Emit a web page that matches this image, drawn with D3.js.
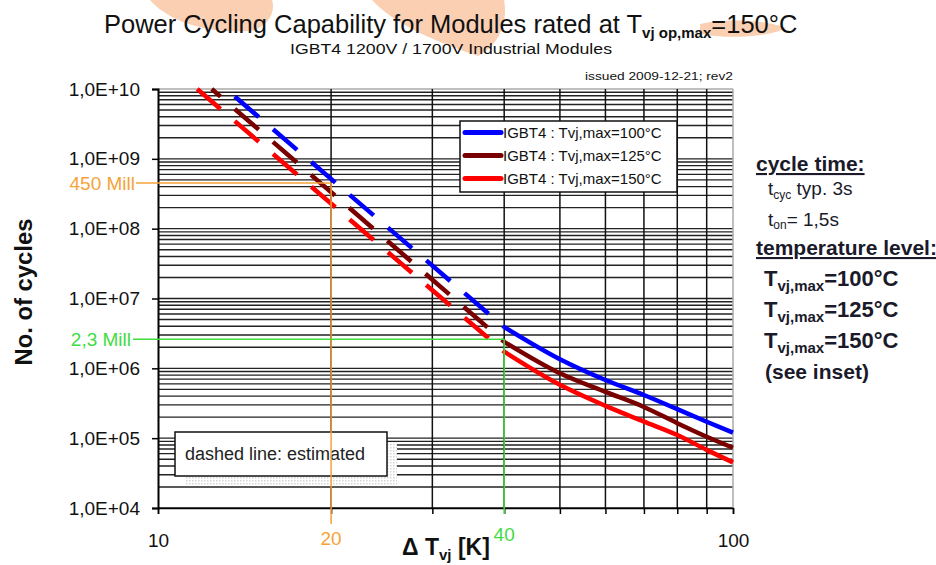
<!DOCTYPE html>
<html>
<head>
<meta charset="utf-8">
<script src="https://cdn.jsdelivr.net/npm/d3@7"></script>
<style>
  body { margin: 0; background: #fff; }
  text { font-family: "Liberation Sans", Arial, sans-serif; }
</style>
</head>
<body>
<script>
// measured curves: delta T [K] vs number of cycles
var dT = [40, 50, 60, 70, 80, 90, 100];
var cyc100 = [3.9e6, 1.35e6, 6.8e5, 4.15e5, 2.6e5, 1.72e5, 1.2e5];
var cyc125 = [2.4e6, 8.5e5, 4.6e5, 2.8e5, 1.64e5, 1.05e5, 7.3e4];
var cyc150 = [1.73e6, 5.8e5, 2.9e5, 1.73e5, 1.11e5, 6.8e4, 4.5e4];

// estimated (dashed) parts: [delta T, cycles]
var est100 = [[13.6, 7.8e9], [40, 3.9e6]];
var est125 = [[12.4, 1e10], [40, 2.4e6]];
var est150 = [[11.7, 1e10], [40, 1.73e6]];

var seriesNames = ['IGBT4 : Tvj,max=100°C', 'IGBT4 : Tvj,max=125°C', 'IGBT4 : Tvj,max=150°C'];
var seriesColors = ['#0000ff', '#7a0000', '#ff0000'];

var yTicks = [1e4, 1e5, 1e6, 1e7, 1e8, 1e9, 1e10];
var yTickLabels = ['1,0E+04', '1,0E+05', '1,0E+06', '1,0E+07', '1,0E+08', '1,0E+09', '1,0E+10'];
var xTicks = [10, 20, 30, 40, 50, 60, 70, 80, 90, 100];

// marker lines
var markT = [20, 40];
var markN = [4.5e8, 2.6e6];
var markLabels = ['450 Mill', '2,3 Mill'];
var markColors = ['#f5a338', '#3fdc3f'];

var width = 936, height = 565;
var margin = {top: 89, right: 203, bottom: 57, left: 158};
var w = width - margin.left - margin.right;
var h = height - margin.top - margin.bottom;

var svg = d3.select('body').append('svg')
  .attr('width', width)
  .attr('height', height);

// faint logo shapes behind the title
var peach = svg.append('g').attr('fill', '#fbcfb2');
peach.append('path').attr('d', 'M150,0 C165,18 200,34 250,31 C268,28 276,12 272,0 Z');
peach.append('path').attr('d', 'M372,0 C392,22 430,40 478,56 C500,44 508,22 504,0 Z');
peach.append('path').attr('d', 'M700,24 C725,18 768,20 786,28 C770,37 722,40 700,33 Z');

svg.append('text')
  .attr('x', 104).attr('y', 33)
  .style('font-size', '25.5px').attr('fill', '#111')
  .call(function(t) {
    t.append('tspan').text('Power Cycling Capability for Modules rated at T');
    t.append('tspan').attr('dy', 5).style('font-size', '15px').style('font-weight', 'bold').text('vj op,max');
    t.append('tspan').attr('dy', -5).text('=150°C');
  });

svg.append('text')
  .attr('x', 451).attr('y', 54).attr('text-anchor', 'middle')
  .style('font-size', '15px').attr('fill', '#111')
  .attr('textLength', 322).attr('lengthAdjust', 'spacingAndGlyphs')
  .text('IGBT4 1200V / 1700V Industrial Modules');

svg.append('text')
  .attr('x', 733).attr('y', 80).attr('text-anchor', 'end')
  .style('font-size', '11px').attr('fill', '#111')
  .attr('textLength', 148).attr('lengthAdjust', 'spacingAndGlyphs')
  .text('issued 2009-12-21; rev2');

var g = svg.append('g')
  .attr('transform', 'translate(' + margin.left + ',' + margin.top + ')');

var x = d3.scaleLog().domain([10, 100]).range([0, w]);
var y = d3.scaleLog().domain([1e4, 1e10]).range([h, 0]);

// horizontal grid on every minor step
var hGrid = [];
for (var k = 4; k < 10; k++) {
  for (var m = 1; m < 10; m++) hGrid.push(m * Math.pow(10, k));
}
hGrid.push(1e10);

g.append('g').selectAll('line')
  .data(hGrid)
  .enter().append('line')
  .attr('x1', 0).attr('x2', w)
  .attr('y1', function(d) { return y(d); })
  .attr('y2', function(d) { return y(d); })
  .attr('stroke', function(d) { return d == 1e10 ? '#aaa' : '#222'; })
  .attr('stroke-width', 1.4);

g.append('g').selectAll('line')
  .data(xTicks.slice(1))
  .enter().append('line')
  .attr('x1', function(d) { return x(d); })
  .attr('x2', function(d) { return x(d); })
  .attr('y1', 0).attr('y2', h)
  .attr('stroke', function(d) { return d == 100 ? '#aaa' : '#111'; })
  .attr('stroke-width', 1.5);

// axes
var yAxis = g.append('g')
  .call(d3.axisLeft(y).tickValues(yTicks).tickSize(6).tickPadding(12)
    .tickFormat(function(d, i) { return yTickLabels[i]; }));
yAxis.select('.domain').attr('stroke', '#000').attr('stroke-width', 2);
yAxis.selectAll('line').attr('stroke', '#000').attr('stroke-width', 1.5);
yAxis.selectAll('text').style('font-size', '19px').attr('fill', '#111')
  .style('font-family', '"Liberation Sans", Arial, sans-serif');

var xAxis = g.append('g')
  .attr('transform', 'translate(0,' + h + ')')
  .call(d3.axisBottom(x).tickValues(xTicks).tickSize(6).tickPadding(20)
    .tickFormat(function(d) { return (d == 10 || d == 100) ? d : ''; }));
xAxis.select('.domain').attr('stroke', '#000').attr('stroke-width', 1.5);
xAxis.selectAll('line').attr('stroke', '#000').attr('stroke-width', 1.5);
xAxis.selectAll('text').style('font-size', '19px').attr('fill', '#111')
  .style('font-family', '"Liberation Sans", Arial, sans-serif');

// note box "dashed line: estimated"
var shadow = svg.append('defs').append('pattern')
  .attr('id', 'dots').attr('width', 3).attr('height', 3)
  .attr('patternUnits', 'userSpaceOnUse');
shadow.append('rect').attr('width', 3).attr('height', 3).attr('fill', '#fff');
shadow.append('rect').attr('width', 1.5).attr('height', 1.5).attr('fill', '#d4d4d4');
svg.append('rect').attr('x', 185).attr('y', 442).attr('width', 212).attr('height', 44)
  .attr('fill', 'url(#dots)');
svg.append('rect').attr('x', 175).attr('y', 432).attr('width', 212).attr('height', 44)
  .attr('fill', '#fff').attr('stroke', '#111').attr('stroke-width', 1.5);
svg.append('text').attr('x', 185).attr('y', 460)
  .style('font-size', '18px').attr('fill', '#222')
  .text('dashed line: estimated');

// marker lines
markT.forEach(function(t, i) {
  var px = margin.left + x(t), py = margin.top + y(markN[i]);
  svg.append('line')
    .attr('x1', i == 0 ? 136 : 133).attr('x2', px)
    .attr('y1', py).attr('y2', py)
    .attr('stroke', markColors[i]).attr('stroke-width', 1.5);
  svg.append('line')
    .attr('x1', px).attr('x2', px)
    .attr('y1', py).attr('y2', i == 0 ? 524 : 514)
    .attr('stroke', markColors[i]).attr('stroke-width', 1.5);
  svg.append('text')
    .attr('x', i == 0 ? 135 : 131).attr('y', py + 7)
    .attr('text-anchor', 'end')
    .style('font-size', '19px').attr('fill', markColors[i])
    .text(markLabels[i]);
  svg.append('text')
    .attr('x', px).attr('y', i == 0 ? 545 : 541)
    .attr('text-anchor', 'middle')
    .style('font-size', '19px').attr('fill', markColors[i])
    .text(t);
});

// curves
var line = d3.line()
  .x(function(d) { return x(d[0]); })
  .y(function(d) { return y(d[1]); });

var solid = [cyc100, cyc125, cyc150];
var est = [est100, est125, est150];
var dashLen = 31.6, gapLen = 18.8;

est.forEach(function(s, i) {
  var p = g.append('path')
    .attr('d', line(s))
    .attr('fill', 'none')
    .attr('stroke', seriesColors[i])
    .attr('stroke-width', 4.5);
  // keep the dashes of all three lines in step with the 100°C line
  var len = p.node().getTotalLength();
  var dx = x(s[1][0]) - x(s[0][0]);
  var shift = (x(est100[0][0]) - x(s[0][0])) * len / dx;
  p.attr('stroke-dasharray', dashLen + ',' + gapLen)
   .attr('stroke-dashoffset', -shift);
});

solid.forEach(function(s, i) {
  g.append('path')
    .datum(dT.map(function(t, j) { return [t, s[j]]; }))
    .attr('d', line.curve(d3.curveMonotoneX))
    .attr('fill', 'none')
    .attr('stroke', seriesColors[i])
    .attr('stroke-width', 4.5);
  line.curve(d3.curveLinear);
});

// legend
var legend = svg.append('g');
legend.append('rect').attr('x', 460).attr('y', 121).attr('width', 217).attr('height', 71)
  .attr('fill', '#fff').attr('stroke', '#111').attr('stroke-width', 1.5);
seriesNames.forEach(function(n, i) {
  var ly = 132.5 + i * 23;
  legend.append('line')
    .attr('x1', 465).attr('x2', 501).attr('y1', ly).attr('y2', ly)
    .attr('stroke', seriesColors[i]).attr('stroke-width', 5)
    .attr('stroke-linecap', 'round');
  legend.append('text').attr('x', 503).attr('y', ly + 5.5)
    .style('font-size', '15px').attr('fill', '#111')
    .text(n);
});

// axis titles
svg.append('text')
  .attr('transform', 'translate(32,292) rotate(-90)')
  .attr('text-anchor', 'middle')
  .style('font-size', '24px').style('font-weight', 'bold').attr('fill', '#111')
  .attr('textLength', 147).attr('lengthAdjust', 'spacingAndGlyphs')
  .text('No. of cycles');

svg.append('text')
  .attr('x', 402).attr('y', 555)
  .style('font-size', '23px').style('font-weight', 'bold').attr('fill', '#111')
  .call(function(t) {
    t.append('tspan').text('\u0394 T');
    t.append('tspan').attr('dy', 5).style('font-size', '15px').text('vj');
    t.append('tspan').attr('dy', -5).text(' [K]');
  });

// side notes
var notes = svg.append('g').attr('fill', '#1a1a2a');
notes.append('text').attr('x', 756).attr('y', 171)
  .style('font-size', '21px').style('font-weight', 'bold')
  .style('text-decoration', 'underline').text('cycle time:');
notes.append('text').attr('x', 768).attr('y', 195)
  .style('font-size', '19px')
  .call(function(t) {
    t.append('tspan').text('t');
    t.append('tspan').attr('dy', 4).style('font-size', '12px').text('cyc');
    t.append('tspan').attr('dy', -4).text(' typ. 3s');
  });
notes.append('text').attr('x', 768).attr('y', 226)
  .style('font-size', '19px')
  .call(function(t) {
    t.append('tspan').text('t');
    t.append('tspan').attr('dy', 3).style('font-size', '12px').text('on');
    t.append('tspan').attr('dy', -3).text('= 1,5s');
  });
notes.append('text').attr('x', 756).attr('y', 255)
  .style('font-size', '21px').style('font-weight', 'bold')
  .style('text-decoration', 'underline').text('temperature level:');
['100', '125', '150'].forEach(function(v, i) {
  notes.append('text').attr('x', 764).attr('y', 286 + i * 31)
    .style('font-size', '22px').style('font-weight', 'bold')
    .call(function(t) {
      t.append('tspan').text('T');
      t.append('tspan').attr('dy', 5).style('font-size', '15px').text('vj,max');
      t.append('tspan').attr('dy', -5).text('=' + v + '°C');
    });
});
notes.append('text').attr('x', 765).attr('y', 379)
  .style('font-size', '21px').style('font-weight', 'bold').text('(see inset)');
</script>
</body>
</html>
